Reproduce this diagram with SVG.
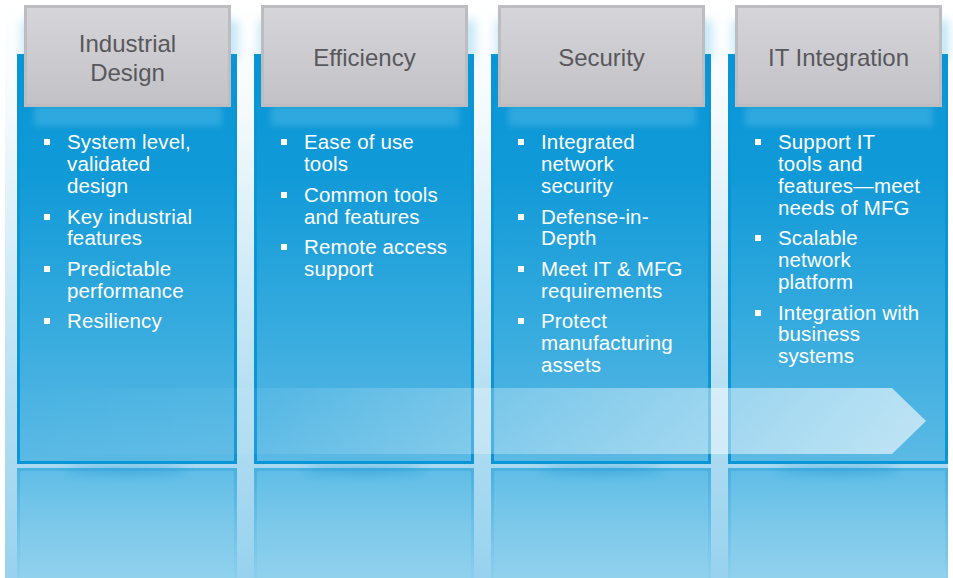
<svg xmlns="http://www.w3.org/2000/svg" width="953" height="578" viewBox="0 0 953 578">
  <defs>
    <linearGradient id="bg" x1="0" y1="0" x2="0" y2="1">
      <stop offset="0" stop-color="#ffffff"/>
      <stop offset="0.2" stop-color="#f4fafd"/>
      <stop offset="0.7" stop-color="#b3def2"/>
      <stop offset="1" stop-color="#98d2ee"/>
    </linearGradient>
    <linearGradient id="panelFill" x1="0" y1="0" x2="0" y2="1">
      <stop offset="0" stop-color="#0895d5"/>
      <stop offset="0.3" stop-color="#119ad8"/>
      <stop offset="0.65" stop-color="#34aade"/>
      <stop offset="1" stop-color="#5cbae5"/>
    </linearGradient>
    <linearGradient id="reflFill" x1="0" y1="0" x2="0" y2="1">
      <stop offset="0" stop-color="#5fbde6"/>
      <stop offset="0.5" stop-color="#7ec9ea"/>
      <stop offset="1" stop-color="#95d3ee"/>
    </linearGradient>
    <linearGradient id="reflBorder" x1="0" y1="0" x2="0" y2="1">
      <stop offset="0" stop-color="#4ab1e0"/>
      <stop offset="1" stop-color="#93d2ee"/>
    </linearGradient>
    <linearGradient id="hdrFill" x1="0" y1="0" x2="0" y2="1">
      <stop offset="0" stop-color="#d6d5d9"/>
      <stop offset="1" stop-color="#c2c1c5"/>
    </linearGradient>
    <linearGradient id="arrowFill" x1="17" y1="0" x2="926" y2="0" gradientUnits="userSpaceOnUse">
      <stop offset="0" stop-color="#ffffff" stop-opacity="0"/>
      <stop offset="0.25" stop-color="#ffffff" stop-opacity="0.05"/>
      <stop offset="0.5" stop-color="#ffffff" stop-opacity="0.25"/>
      <stop offset="1" stop-color="#ffffff" stop-opacity="0.62"/>
    </linearGradient>
    <filter id="blur6" x="-30%" y="-100%" width="160%" height="300%">
      <feGaussianBlur stdDeviation="5"/>
    </filter>
    <filter id="blur3" x="-20%" y="-50%" width="140%" height="200%">
      <feGaussianBlur stdDeviation="3"/>
    </filter>
  </defs>
  <style>
    .panel { fill: url(#panelFill); stroke: #0a96d6; stroke-width: 3; }
    .refl { fill: url(#reflFill); stroke: url(#reflBorder); stroke-width: 3; }
    .hdr { fill: url(#hdrFill); stroke: #bdbcc0; stroke-width: 3; }
    .glow { fill: #45b4e3; opacity: 0.6; filter: url(#blur3); }
    .shadow { fill: #1a95d3; opacity: 0.4; filter: url(#blur6); }
    .hdrglow { fill: #8fd0ef; opacity: 0.5; filter: url(#blur6); }
    .title { font-family: "Liberation Sans", Arial, sans-serif; font-size: 24px; fill: #58585c; text-anchor: middle; }
    .item { font-family: "Liberation Sans", Arial, sans-serif; font-size: 20.5px; fill: #ffffff; letter-spacing: 0.15px; }
    .bullet { fill: #ffffff; }
  </style>

  <rect x="5" y="0" width="943" height="578" fill="url(#bg)"/>

  <g id="col-industrial-design">
    <rect class="hdrglow" x="22" y="20" width="216" height="40"/>
    <rect class="panel" x="18.5" y="55.5" width="217" height="407"/>
    <rect class="glow" x="34" y="106" width="188" height="20"/>
    <rect class="hdr" x="25.5" y="6.5" width="204" height="99"/>
    <text class="title" x="127.5" y="52">Industrial</text>
    <text class="title" x="127.5" y="81">Design</text>
    <rect class="bullet" x="44" y="139" width="6" height="6"/>
    <text class="item" x="67" y="149">System level,</text>
    <text class="item" x="67" y="171">validated</text>
    <text class="item" x="67" y="193">design</text>
    <rect class="bullet" x="44" y="214" width="6" height="6"/>
    <text class="item" x="67" y="224">Key industrial</text>
    <text class="item" x="67" y="245">features</text>
    <rect class="bullet" x="44" y="266" width="6" height="6"/>
    <text class="item" x="67" y="276">Predictable</text>
    <text class="item" x="67" y="298">performance</text>
    <rect class="bullet" x="44" y="318" width="6" height="6"/>
    <text class="item" x="67" y="328">Resiliency</text>
  </g>

  <g id="col-efficiency">
    <rect class="hdrglow" x="259" y="20" width="216" height="40"/>
    <rect class="panel" x="255.5" y="55.5" width="217" height="407"/>
    <rect class="glow" x="271" y="106" width="188" height="20"/>
    <rect class="hdr" x="262.5" y="6.5" width="204" height="99"/>
    <text class="title" x="364.5" y="66">Efficiency</text>
    <rect class="bullet" x="281" y="139" width="6" height="6"/>
    <text class="item" x="304" y="149">Ease of use</text>
    <text class="item" x="304" y="171">tools</text>
    <rect class="bullet" x="281" y="192" width="6" height="6"/>
    <text class="item" x="304" y="202">Common tools</text>
    <text class="item" x="304" y="224">and features</text>
    <rect class="bullet" x="281" y="244" width="6" height="6"/>
    <text class="item" x="304" y="254">Remote access</text>
    <text class="item" x="304" y="276">support</text>
  </g>

  <g id="col-security">
    <rect class="hdrglow" x="496" y="20" width="216" height="40"/>
    <rect class="panel" x="492.5" y="55.5" width="217" height="407"/>
    <rect class="glow" x="508" y="106" width="188" height="20"/>
    <rect class="hdr" x="499.5" y="6.5" width="204" height="99"/>
    <text class="title" x="601.5" y="66">Security</text>
    <rect class="bullet" x="518" y="139" width="6" height="6"/>
    <text class="item" x="541" y="149">Integrated</text>
    <text class="item" x="541" y="171">network</text>
    <text class="item" x="541" y="193">security</text>
    <rect class="bullet" x="518" y="214" width="6" height="6"/>
    <text class="item" x="541" y="224">Defense-in-</text>
    <text class="item" x="541" y="245">Depth</text>
    <rect class="bullet" x="518" y="266" width="6" height="6"/>
    <text class="item" x="541" y="276">Meet IT &amp; MFG</text>
    <text class="item" x="541" y="298">requirements</text>
    <rect class="bullet" x="518" y="318" width="6" height="6"/>
    <text class="item" x="541" y="328">Protect</text>
    <text class="item" x="541" y="350">manufacturing</text>
    <text class="item" x="541" y="372">assets</text>
  </g>

  <g id="col-it-integration">
    <rect class="hdrglow" x="733" y="20" width="216" height="40"/>
    <rect class="panel" x="729.5" y="55.5" width="217" height="407"/>
    <rect class="glow" x="745" y="106" width="188" height="20"/>
    <rect class="hdr" x="736.5" y="6.5" width="204" height="99"/>
    <text class="title" x="838.5" y="66">IT Integration</text>
    <rect class="bullet" x="755" y="139" width="6" height="6"/>
    <text class="item" x="778" y="149">Support IT</text>
    <text class="item" x="778" y="171">tools and</text>
    <text class="item" x="778" y="193">features—meet</text>
    <text class="item" x="778" y="215">needs of MFG</text>
    <rect class="bullet" x="755" y="235" width="6" height="6"/>
    <text class="item" x="778" y="245">Scalable</text>
    <text class="item" x="778" y="267">network</text>
    <text class="item" x="778" y="289">platform</text>
    <rect class="bullet" x="755" y="310" width="6" height="6"/>
    <text class="item" x="778" y="320">Integration with</text>
    <text class="item" x="778" y="341">business</text>
    <text class="item" x="778" y="363">systems</text>
  </g>

  <g id="reflections">
    <rect class="refl" x="18.5" y="469.5" width="217" height="120"/>
    <rect class="refl" x="255.5" y="469.5" width="217" height="120"/>
    <rect class="refl" x="492.5" y="469.5" width="217" height="120"/>
    <rect class="refl" x="729.5" y="469.5" width="217" height="120"/>
    <ellipse class="shadow" cx="127" cy="470" rx="60" ry="5"/>
    <ellipse class="shadow" cx="364" cy="470" rx="60" ry="5"/>
    <ellipse class="shadow" cx="601" cy="470" rx="60" ry="5"/>
    <ellipse class="shadow" cx="838" cy="470" rx="60" ry="5"/>
  </g>

  <g id="connectors">
    <polygon points="17,388 892,388 926,421 892,454 17,454" fill="url(#arrowFill)"/>
  </g>
</svg>
